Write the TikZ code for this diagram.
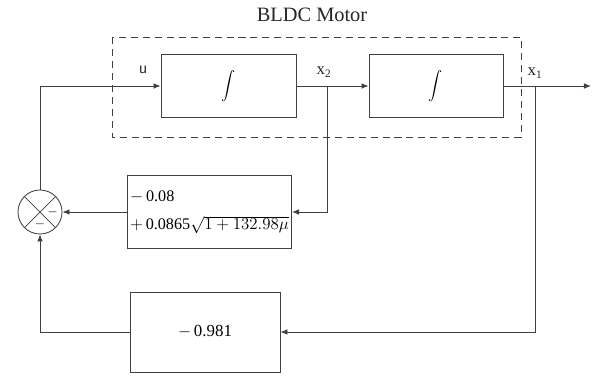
\documentclass[tikz,border=0pt]{standalone}
\usepackage{fontspec}
\setmainfont{Liberation Serif}
\usetikzlibrary{arrows.meta}
\definecolor{wire}{HTML}{404040}

\tikzset{
  blk/.style={draw=wire,line width=.6pt,minimum height=1.575cm,inner sep=2pt},
  sig/.style={draw=wire,line width=.6pt,-{Latex[length=5pt,width=4pt]}},
  lbl/.style={font=\fontsize{12}{14}\selectfont,text=black!85}
}

\begin{document}
\begin{tikzpicture}[x=0.025cm,y=-0.025cm,font=\fontsize{12}{14}\selectfont]
\useasboundingbox (0,0) rectangle (592,376);
\draw[wire,line width=.6pt,dash pattern=on 5pt off 3.5pt] (112,37) rectangle (521,137);
\node[font=\fontsize{14.5}{16}\selectfont,text=black!85] (title) at (312,15) {BLDC Motor};
\node[blk,minimum width=3.375cm] (int1) at (228.5,86) {\raisebox{2pt}{$\displaystyle\int$}};
\node[blk,minimum width=3.35cm] (int2) at (436,86) {\raisebox{2pt}{$\displaystyle\int$}};
\node[blk,minimum width=3.975cm,minimum height=1.825cm,align=left,font=\fontsize{11.5}{20}\selectfont] (fb1) at (209.5,212) {$-$\,0.08\\$+$\,0.0865$\sqrt{1+132.98\mu}$};
\node[blk,minimum width=3.75cm,minimum height=2cm] (fb2) at (205,332) {$-$\,0.981};
\node[draw=wire,line width=.6pt,circle,minimum size=1.1cm,inner sep=0pt] (sum) at (40,212) {};
\draw[wire,line width=.5pt] (sum.north east) -- (sum.south west) (sum.north west) -- (sum.south east);
\node[font=\fontsize{9}{10}\selectfont] (mr) at ([xshift=0.32cm]sum.center) {$-$};
\node[font=\fontsize{9}{10}\selectfont] (mb) at ([yshift=-0.3cm]sum.center) {$-$};
\coordinate (cin) at (40,86);
\coordinate (x2tap) at (327,86);
\coordinate (x2dn) at (327,212);
\coordinate (x1tap) at (535,86);
\coordinate (x1dn) at (535,332);
\coordinate (out) at (591,86);
\coordinate (cback) at (40,332);
\node[lbl,font=\fontsize{12}{14}\sffamily] (u) at (143,70) {u};
\node[lbl] (x2) at (324,72) {x\textsubscript{2}};
\node[lbl] (x1) at (535,73) {x\textsubscript{1}};
\draw[sig] (sum.north) -- (cin) -- (int1.west);
\draw[sig] (int1.east) -- (int2.west);
\draw[sig] (int2.east) -- (out);
\draw[sig] (x2tap) -- (x2dn) -- (fb1.east);
\draw[sig] (fb1.west) -- (sum.east);
\draw[sig] (x1tap) -- (x1dn) -- (fb2.east);
\draw[sig] (fb2.west) -- (cback) -- (sum.south);
\end{tikzpicture}
\end{document}
